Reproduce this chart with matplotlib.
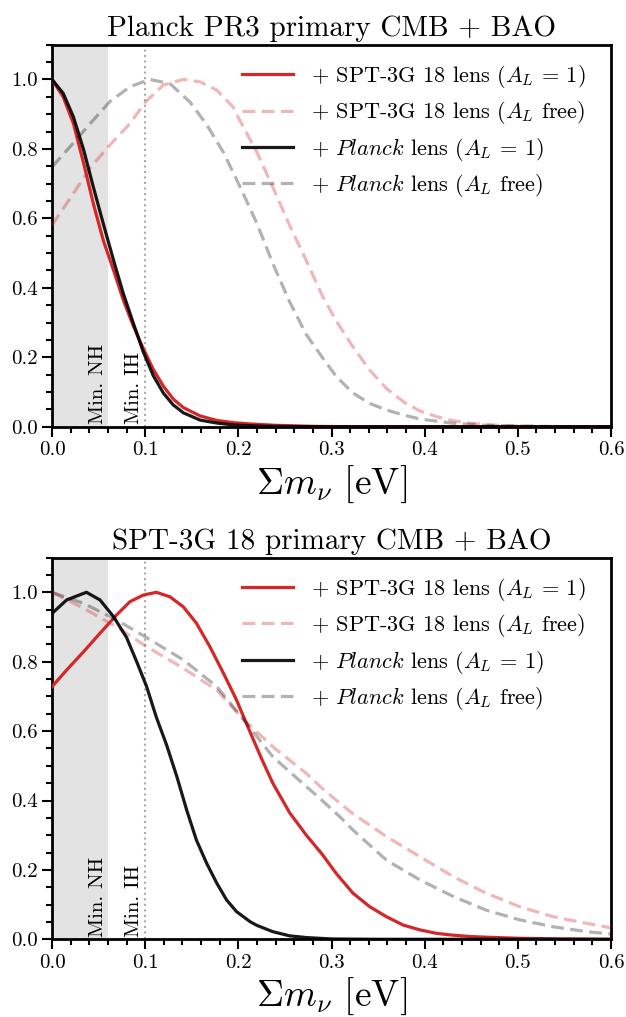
import numpy as np
import matplotlib
matplotlib.use("Agg")
import matplotlib.pyplot as plt
from matplotlib.ticker import MultipleLocator

plt.rcParams['font.family'] = 'serif'
plt.rcParams['font.serif'] = ['cmr10', 'DejaVu Serif']
plt.rcParams['mathtext.fontset'] = 'cm'
plt.rcParams['axes.formatter.use_mathtext'] = True

# ---------------- data ----------------
titles = ["Planck PR3 primary CMB + BAO", "SPT-3G 18 primary CMB + BAO"]
labels = [r"+ SPT-3G 18 lens ($A_L$ = 1)",
          r"+ SPT-3G 18 lens ($A_L$ free)",
          r"+ $\mathit{Planck}$ lens ($A_L$ = 1)",
          r"+ $\mathit{Planck}$ lens ($A_L$ free)"]

# Top panel: Planck PR3 primary CMB + BAO
top_spt_fixed_x = [0, 0.012, 0.023, 0.034, 0.0443, 0.055, 0.066, 0.0765, 0.0873, 0.098, 0.1087, 0.1195,
                   0.13, 0.141, 0.159, 0.177, 0.195, 0.2125, 0.24, 0.28, 0.32, 0.6]
top_spt_fixed_y = [1.0, 0.95, 0.873, 0.758, 0.643, 0.537, 0.451, 0.365, 0.29, 0.225, 0.165, 0.117,
                   0.08, 0.055, 0.031, 0.018, 0.0115, 0.008, 0.004, 0.001, 0.0, 0.0]
top_spt_free_x = [0, 0.0193, 0.041, 0.062, 0.0837, 0.1, 0.1195, 0.141, 0.159, 0.177, 0.1945, 0.2, 0.22,
                  0.237, 0.255, 0.273, 0.29, 0.305, 0.323, 0.341, 0.359, 0.377, 0.395, 0.413,
                  0.431, 0.449, 0.467, 0.484, 0.52, 0.55, 0.6]
top_spt_free_y = [0.58, 0.657, 0.745, 0.811, 0.873, 0.934, 0.984, 1.0, 0.993, 0.969, 0.92, 0.89, 0.79,
                  0.69, 0.58, 0.478, 0.378, 0.305, 0.23, 0.163, 0.11, 0.072, 0.045, 0.029,
                  0.017, 0.010, 0.006, 0.003, 0.001, 0.0, 0.0]
top_pl_fixed_x = [0, 0.012, 0.023, 0.034, 0.0443, 0.055, 0.066, 0.0765, 0.0873, 0.098, 0.1087, 0.1195,
                  0.13, 0.141, 0.159, 0.177, 0.195, 0.22, 0.25, 0.3, 0.6]
top_pl_fixed_y = [1.0, 0.96, 0.892, 0.797, 0.691, 0.585, 0.48, 0.384, 0.298, 0.215, 0.147, 0.097,
                  0.063, 0.04, 0.019, 0.0105, 0.005, 0.002, 0.0005, 0.0, 0.0]
top_pl_free_x = [0, 0.0193, 0.041, 0.062, 0.0837, 0.105, 0.1266, 0.148, 0.166, 0.184, 0.202,
                 0.22, 0.237, 0.255, 0.273, 0.29, 0.305, 0.323, 0.341, 0.359, 0.377, 0.395, 0.43,
                 0.466, 0.5, 0.55, 0.6]
top_pl_free_y = [0.748, 0.806, 0.873, 0.936, 0.979, 1.0, 0.988, 0.935, 0.87, 0.79, 0.69,
                 0.585, 0.47, 0.36, 0.265, 0.2, 0.145, 0.097, 0.067, 0.048, 0.034, 0.022, 0.010,
                 0.004, 0.002, 0.0, 0.0]

# Bottom panel: SPT-3G 18 primary CMB + BAO
bot_spt_fixed_x = [0, 0.0157, 0.034, 0.0515, 0.0694, 0.0837, 0.098, 0.112, 0.1266, 0.141, 0.155, 0.1695,
                   0.184, 0.198, 0.2125, 0.225, 0.237, 0.255, 0.273, 0.29, 0.305, 0.323, 0.341, 0.359,
                   0.377, 0.395, 0.413, 0.43, 0.449, 0.467, 0.5, 0.55, 0.6]
bot_spt_fixed_y = [0.728, 0.776, 0.829, 0.882, 0.935, 0.973, 0.992, 1.0, 0.987, 0.958, 0.911, 0.843,
                   0.767, 0.69, 0.598, 0.52, 0.45, 0.365, 0.30, 0.245, 0.19, 0.133, 0.094, 0.065,
                   0.041, 0.027, 0.017, 0.012, 0.008, 0.006, 0.003, 0.001, 0.0]
bot_spt_free_x = [0, 0.034, 0.0694, 0.1, 0.141, 0.177, 0.205, 0.237, 0.273, 0.288, 0.309,
                  0.323, 0.359, 0.395, 0.431, 0.466, 0.502, 0.538, 0.574, 0.6]
bot_spt_free_y = [1.0, 0.954, 0.90, 0.846, 0.781, 0.718, 0.635, 0.555, 0.478, 0.44, 0.392,
                  0.362, 0.296, 0.238, 0.18, 0.133, 0.094, 0.065, 0.046, 0.033]
bot_pl_fixed_x = [0, 0.0157, 0.034, 0.037, 0.0515, 0.066, 0.08, 0.0909, 0.1016, 0.112, 0.123, 0.134,
                  0.1445, 0.155, 0.166, 0.177, 0.1875, 0.198, 0.2125, 0.22, 0.237, 0.255, 0.273,
                  0.3, 0.35, 0.6]
bot_pl_fixed_y = [0.939, 0.978, 0.997, 1.0, 0.978, 0.93, 0.87, 0.80, 0.728, 0.64, 0.56, 0.469,
                  0.373, 0.286, 0.219, 0.161, 0.113, 0.080, 0.051, 0.04, 0.022, 0.010, 0.005,
                  0.001, 0.0, 0.0]
bot_pl_free_x = [0, 0.034, 0.0694, 0.1, 0.141, 0.177, 0.205, 0.22, 0.237, 0.273, 0.288, 0.309,
                 0.323, 0.359, 0.395, 0.431, 0.466, 0.502, 0.538, 0.574, 0.6]
bot_pl_free_y = [1.0, 0.968, 0.92, 0.872, 0.805, 0.728, 0.635, 0.584, 0.526, 0.44, 0.405, 0.353,
                 0.315, 0.228, 0.171, 0.123, 0.084, 0.056, 0.036, 0.022, 0.015]

min_nh = 0.06
min_ih = 0.1
xticks = [0.0, 0.1, 0.2, 0.3, 0.4, 0.5, 0.6]
yticks = [0.0, 0.2, 0.4, 0.6, 0.8, 1.0]

panels = [
    [(top_spt_fixed_x, top_spt_fixed_y), (top_spt_free_x, top_spt_free_y),
     (top_pl_fixed_x, top_pl_fixed_y), (top_pl_free_x, top_pl_free_y)],
    [(bot_spt_fixed_x, bot_spt_fixed_y), (bot_spt_free_x, bot_spt_free_y),
     (bot_pl_fixed_x, bot_pl_fixed_y), (bot_pl_free_x, bot_pl_free_y)],
]

red = '#d62728'
styles = [
    dict(color=red, ls='-', alpha=1.0),
    dict(color=red, ls=(0, (4, 2)), alpha=0.33),
    dict(color='black', ls='-', alpha=0.9),
    dict(color='black', ls=(0, (4, 2)), alpha=0.3),
]

fig = plt.figure(figsize=(6.26, 10.17), dpi=100)
W, H = 626, 1017
ax_rects = [
    [52 / W, 1 - 426.7 / H, 559 / W, 382 / H],
    [52 / W, 1 - 939.3 / H, 559 / W, 381.7 / H],
]

for k in range(2):
    ax = fig.add_axes(ax_rects[k])
    ax.axvspan(0, min_nh, color='#e3e3e3', lw=0, zorder=0)
    ax.axvline(min_ih, color='#aaaaaa', ls=':', lw=1.5, zorder=1)
    for (xs, ys), st, lab in zip(panels[k], styles, labels):
        ax.plot(xs, ys, lw=2.3, label=lab, zorder=3, solid_joinstyle='round',
                dash_joinstyle='round', **st)
    ax.text(min_nh - 0.0015, 0.008, 'Min. NH', rotation=90, ha='right', va='bottom',
            fontsize=15, zorder=2)
    ax.text(min_ih - 0.0025, 0.008, 'Min. IH', rotation=90, ha='right', va='bottom',
            fontsize=15, zorder=2)
    ax.set_xlim(0, 0.6)
    ax.set_ylim(0, 1.1)
    ax.set_xticks(xticks)
    ax.set_yticks(yticks)
    ax.set_xticklabels([f"{v:.1f}" for v in xticks])
    ax.set_yticklabels([f"{v:.1f}" for v in yticks])
    ax.xaxis.set_minor_locator(MultipleLocator(0.02))
    ax.yaxis.set_minor_locator(MultipleLocator(0.05))
    ax.tick_params(which='both', direction='out', top=False, right=False, labelsize=15, width=1.5)
    ax.tick_params(which='major', length=7)
    ax.tick_params(which='minor', length=4)
    for sp in ax.spines.values():
        sp.set_linewidth(2)
    ax.set_title(titles[k], fontsize=21, pad=6)
    ax.set_xlabel(r"$\Sigma m_\nu$ [eV]", fontsize=27, labelpad=3)
    ax.legend(loc='upper right', bbox_to_anchor=(0.955, 0.952), frameon=False, fontsize=16,
              handlelength=2.3, handletextpad=0.8, labelspacing=0.42, borderaxespad=0.0,
              borderpad=0.0)

fig.savefig('out.png', dpi=100)
